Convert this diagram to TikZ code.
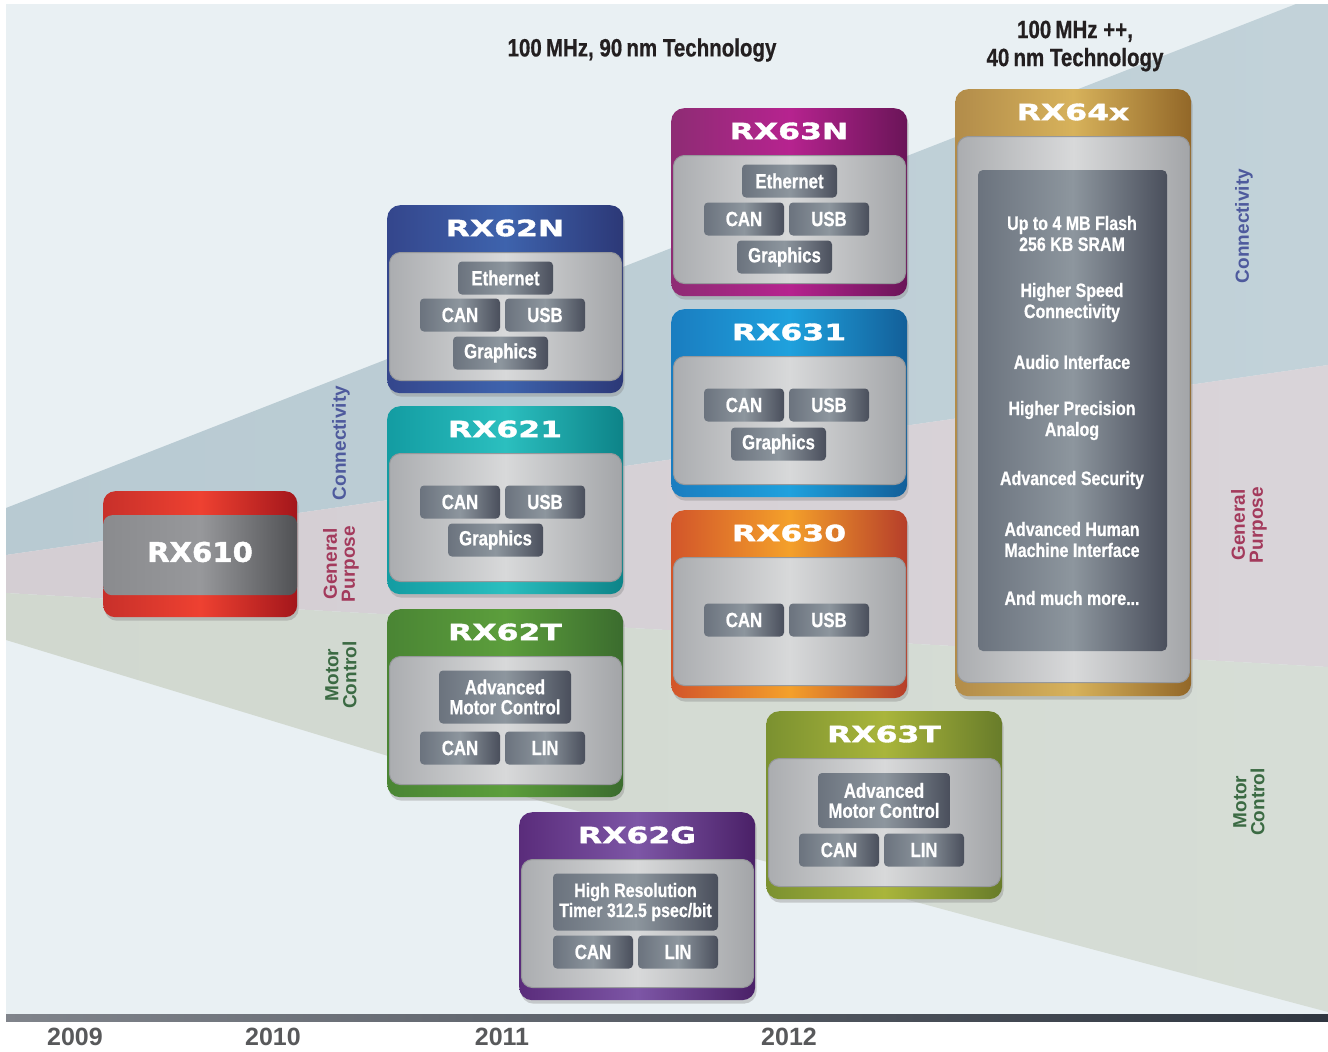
\documentclass[tikz,border=0pt]{standalone}
\usepackage{fontspec}
\setmainfont{Liberation Sans}
\newfontfamily\condfont{Liberation Sans}[UprightFont=* Bold, BoldFont=* Bold, FakeStretch=0.82, FakeBold=0.6]
\newfontfamily\ttlfont{DejaVu Sans}[UprightFont=* Bold, BoldFont=* Bold, FakeStretch=1.4, FakeBold=1.6]
\newfontfamily\bigttlfont{DejaVu Sans}[UprightFont=* Bold, BoldFont=* Bold, FakeStretch=1.08, FakeBold=1.6]
\usetikzlibrary{shadows}
% colours
\definecolor{bgc}{HTML}{E9F0F3}
\definecolor{conL}{HTML}{B8CAD2}\definecolor{conR}{HTML}{C2D2D9}
\definecolor{genL}{HTML}{D4CED3}\definecolor{genR}{HTML}{D9D4D9}
\definecolor{motL}{HTML}{D1D8CF}\definecolor{motR}{HTML}{D6DDD6}
\definecolor{chipL}{HTML}{6B737E}\definecolor{chipM}{HTML}{8D969E}\definecolor{chipR}{HTML}{4A4F5C}
\definecolor{bodyL}{HTML}{ABADB0}\definecolor{bodyM}{HTML}{D8D9DA}\definecolor{bodyR}{HTML}{A3A5A8}
\definecolor{bodyD}{HTML}{96989B}
\definecolor{redL}{HTML}{C8302A}\definecolor{redM}{HTML}{EE4131}\definecolor{redR}{HTML}{A3161B}
\definecolor{gryL}{HTML}{8A8B8E}\definecolor{gryM}{HTML}{97989B}\definecolor{gryR}{HTML}{505154}
\definecolor{bluL}{HTML}{34468C}\definecolor{bluM}{HTML}{3E63AD}\definecolor{bluR}{HTML}{2C3877}
\definecolor{teaL}{HTML}{139CA2}\definecolor{teaM}{HTML}{2BBFBF}\definecolor{teaR}{HTML}{0D8388}
\definecolor{grnL}{HTML}{4A8534}\definecolor{grnM}{HTML}{5C9E3C}\definecolor{grnR}{HTML}{3B6C2E}
\definecolor{purL}{HTML}{5A2C7B}\definecolor{purM}{HTML}{7D56A6}\definecolor{purR}{HTML}{4A2067}
\definecolor{magL}{HTML}{8E2C74}\definecolor{magM}{HTML}{B6238F}\definecolor{magR}{HTML}{6A1558}
\definecolor{cyaL}{HTML}{1A7DC0}\definecolor{cyaM}{HTML}{1FA1DD}\definecolor{cyaR}{HTML}{135F99}
\definecolor{orgL}{HTML}{D2552A}\definecolor{orgM}{HTML}{F4A02A}\definecolor{orgR}{HTML}{B63E2A}
\definecolor{olvL}{HTML}{7B9130}\definecolor{olvM}{HTML}{A9B53B}\definecolor{olvR}{HTML}{687C2A}
\definecolor{gldL}{HTML}{B28C4A}\definecolor{gldM}{HTML}{D7B25B}\definecolor{gldR}{HTML}{926728}
\definecolor{txtK}{HTML}{231F20}
\definecolor{yearc}{HTML}{58595B}
\definecolor{conT}{HTML}{4E5A9D}\definecolor{genT}{HTML}{A33A5C}\definecolor{motT}{HTML}{3B6A43}
\definecolor{barL}{HTML}{80848B}\definecolor{barR}{HTML}{2F3640}

\newcommand\mycard[7]{%
  \node[cardbox, minimum height=#4pt, left color=#6L, right color=#6R, middle color=#6M] (#1) at (#2,#3) {};
  \node[bodybox, minimum height=#5pt] (#1-body) at (#2+2,#3+47) {};
  \node[titletext] (#1-title) at (#2+118,#3+23) {#7};
}
\newcommand\mychip[5]{\node[chip, minimum width=#4pt] (#1) at (#2,#3) {#5};}

\begin{document}
\begin{tikzpicture}[x=1pt,y=-1pt,
  cardbox/.style={rounded corners=13pt, minimum width=236pt, inner sep=0pt, anchor=north west,
    drop shadow={opacity=0.35, shadow xshift=1.5pt, shadow yshift=-3.5pt}},
  bodybox/.style={rounded corners=11pt, minimum width=232pt, inner sep=0pt, anchor=north west,
    draw=bodyD, line width=1pt, left color=bodyL, right color=bodyR, middle color=bodyM},
  titletext/.style={text=white, font=\ttlfont\fontsize{22.5}{24}\selectfont, inner sep=0pt},
  chip/.style={rounded corners=4pt, inner sep=0pt, minimum height=33pt, text=white, align=center,
    font=\condfont\fontsize{20.5}{20}\selectfont,
    left color=chipL, right color=chipR, middle color=chipM},
  listtext/.style={text=white, align=center, inner sep=0pt,
    font=\condfont\fontsize{19.5}{21}\selectfont},
  sidelabel/.style={rotate=90, align=center, inner sep=0pt,
    font=\bfseries\fontsize{19}{18}\selectfont},
  headtext/.style={text=txtK, align=center, inner sep=0pt,
    font=\condfont\fontsize{25}{28}\selectfont},
  yeartext/.style={text=yearc, inner sep=0pt, font=\bfseries\fontsize{25}{26}\selectfont}
]
\useasboundingbox (0,0) rectangle (1328,1052);
\fill[white] (0,0) rectangle (1328,1052);
% background
\fill[bgc] (6,4) rectangle (1328,1014);
\shade[left color=conL, right color=conR] (6,508) -- (1296,4) -- (1328,4) -- (1328,365) -- (6,555) -- cycle;
\shade[left color=genL, right color=genR] (6,555) -- (1328,365) -- (1328,667) -- (6,593) -- cycle;
\shade[left color=motL, right color=motR] (6,593) -- (1328,667) -- (1328,1012) -- (1020,930) -- (500,790) -- (6,640) -- cycle;
% axis bar
\shade[left color=barL, right color=barR] (6,1014) rectangle (1328,1021);
\node[coordinate] (axis) at (6,1014) {};
% headings
\node[headtext] (h90) at (642,50) {100\,MHz, 90\,nm Technology};
\node[headtext] (h40) at (1075,46) {100\,MHz ++,\\40\,nm Technology};
% years
\node[yeartext] (y2009) at (75,1037) {2009};
\node[yeartext] (y2010) at (273,1037) {2010};
\node[yeartext] (y2011) at (502,1037) {2011};
\node[yeartext] (y2012) at (789,1037) {2012};
% side labels
\node[sidelabel, text=conT] (lconn) at (341,443) {Connectivity};
\node[sidelabel, text=genT] (lgen) at (341,564) {General\\Purpose};
\node[sidelabel, text=motT] (lmot) at (341,675) {Motor\\Control};
\node[sidelabel, text=conT] (rconn) at (1244,226) {Connectivity};
\node[sidelabel, text=genT] (rgen) at (1249,525) {General\\Purpose};
\node[sidelabel, text=motT] (rmot) at (1249,802) {Motor\\Control};
% RX610
\node[cardbox, rounded corners=12pt, minimum width=194pt, minimum height=126pt,
  left color=redL, right color=redR, middle color=redM] (c610) at (103,491) {};
\node[rounded corners=9pt, minimum width=194pt, minimum height=80pt, inner sep=0pt, anchor=north west,
  left color=gryL, right color=gryR, middle color=gryM] (c610-body) at (103,515) {};
\node[text=white, inner sep=0pt, font=\bigttlfont\fontsize{27}{29}\selectfont] (c610-title) at (200,552) {RX610};
% cards
\mycard{c62N}{387}{205}{188}{128}{blu}{RX62N}
\mychip{c62N-eth}{505.5}{278}{95}{Ethernet}
\mychip{c62N-can}{460}{315}{80}{CAN}
\mychip{c62N-usb}{545}{315}{80}{USB}
\mychip{c62N-gfx}{500.5}{353}{95}{Graphics}

\mycard{c621}{387}{406}{188}{128}{tea}{RX621}
\mychip{c621-can}{460}{502}{80}{CAN}
\mychip{c621-usb}{545}{502}{80}{USB}
\mychip{c621-gfx}{495.5}{540}{95}{Graphics}

\mycard{c62T}{387}{609}{188}{128}{grn}{RX62T}
\node[chip, minimum width=132pt, minimum height=53pt] (c62T-amc) at (505,697) {Advanced\\Motor Control};
\mychip{c62T-can}{460}{748}{80}{CAN}
\mychip{c62T-lin}{545}{748}{80}{LIN}

\mycard{c62G}{519}{812}{188}{128}{pur}{RX62G}
\node[chip, minimum width=165pt, minimum height=57pt, font=\condfont\fontsize{19.5}{20}\selectfont] (c62G-hrt) at (635.5,902) {High Resolution\\Timer 312.5 psec/bit};
\mychip{c62G-can}{593}{952}{80}{CAN}
\mychip{c62G-lin}{678}{952}{80}{LIN}

\mycard{c63N}{671}{108}{188}{128}{mag}{RX63N}
\mychip{c63N-eth}{789.5}{181}{95}{Ethernet}
\mychip{c63N-can}{744}{219}{80}{CAN}
\mychip{c63N-usb}{829}{219}{80}{USB}
\mychip{c63N-gfx}{784.5}{257}{95}{Graphics}

\mycard{c631}{671}{309}{188}{128}{cya}{RX631}
\mychip{c631-can}{744}{405}{80}{CAN}
\mychip{c631-usb}{829}{405}{80}{USB}
\mychip{c631-gfx}{778.5}{444}{95}{Graphics}

\mycard{c630}{671}{510}{188}{128}{org}{RX630}
\mychip{c630-can}{744}{620}{80}{CAN}
\mychip{c630-usb}{829}{620}{80}{USB}

\mycard{c63T}{766}{711}{188}{128}{olv}{RX63T}
\node[chip, minimum width=132pt, minimum height=55pt] (c63T-amc) at (884,800.5) {Advanced\\Motor Control};
\mychip{c63T-can}{839}{850}{80}{CAN}
\mychip{c63T-lin}{924}{850}{80}{LIN}

\mycard{c64x}{955}{89}{607}{546}{gld}{RX64x}
\node[chip, rounded corners=5pt, minimum width=189pt, minimum height=481pt] (c64x-feat) at (1072.5,410.5) {};
\node[listtext] (f1) at (1072,233.5) {Up to 4 MB Flash\\256 KB SRAM};
\node[listtext] (f2) at (1072,302.5) {Higher Speed\\Connectivity};
\node[listtext] (f3) at (1072,362) {Audio Interface};
\node[listtext] (f4) at (1072,420.5) {Higher Precision\\Analog};
\node[listtext] (f5) at (1072,480) {Advanced Security};
\node[listtext] (f6) at (1072,539.5) {Advanced Human\\Machine Interface};
\node[listtext] (f7) at (1072,598) {And much more...};
\end{tikzpicture}
\end{document}
